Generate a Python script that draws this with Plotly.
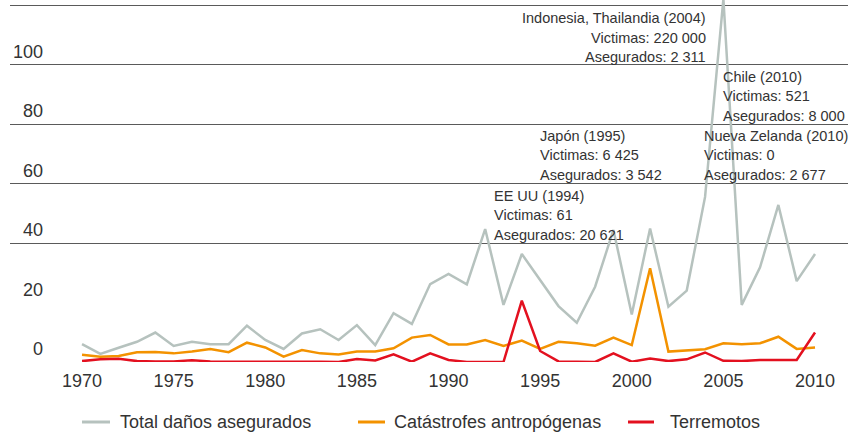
import plotly.graph_objects as go

years = list(range(1970, 2011))

total_asegurados = [6.0, 2.7, 4.8, 6.8, 9.9, 5.4, 6.8, 6.0, 6.0, 12.2,
                    7.4, 4.4, 9.6, 11.0, 7.4, 12.4, 5.7, 16.4, 12.8, 26.2,
                    29.6, 26.1, 44.7, 19.2, 36.3, 27.6, 18.8, 13.2, 25.3, 44.4,
                    16.0, 44.9, 18.6, 24.0, 55.5, 122.0, 19.2, 31.8, 52.8, 27.2,
                    36.3]

antropogenas = [2.4, 1.8, 2.0, 3.3, 3.4, 2.9, 3.5, 4.4, 3.3, 6.5,
                4.9, 1.8, 4.0, 2.9, 2.5, 3.5, 3.5, 4.6, 8.2, 9.1,
                5.9, 5.9, 7.4, 5.4, 7.2, 4.4, 6.8, 6.3, 5.5, 8.2,
                5.7, 31.5, 3.5, 4.0, 4.3, 6.3, 6.0, 6.3, 8.5, 4.4,
                4.9]

terremotos = [0.3, 0.9, 1.1, 0.3, 0.2, 0.2, 0.6, 0.2, 0.1, 0.1,
              0.2, 0.3, 0.1, 0.1, 0.0, 1.0, 0.5, 2.6, 0.1, 2.9,
              0.7, 0.0, 0.0, 0.0, 20.6, 3.7, 0.2, 0.0, 0.0, 2.9,
              0.1, 1.2, 0.3, 0.9, 3.2, 0.4, 0.3, 0.7, 0.7, 0.7,
              9.9]

series_names = ["Total daños asegurados", "Catástrofes antropógenas", "Terremotos"]
series_colors = ["#b6c2be", "#f39200", "#e3101f"]

x_tickvals = [1970, 1975, 1980, 1985, 1990, 1995, 2000, 2005, 2010]
y_label_vals = [0, 20, 40, 60, 80, 100]
y_grid_vals = [0, 40, 60, 80, 100, 120]

events = [
    ("Indonesia, Thailandia (2004)", "Victimas: 220 000", "Asegurados: 2 311"),
    ("Chile (2010)", "Victimas: 521", "Asegurados: 8 000"),
    ("Japón (1995)", "Victimas: 6 425", "Asegurados: 3 542"),
    ("Nueva Zelanda (2010)", "Victimas: 0", "Asegurados: 2 677"),
    ("EE UU (1994)", "Victimas: 61", "Asegurados: 20 621"),
]
event_x = [2004.1, 2004.91, 1994.93, 2003.88, 1992.42]
event_y = [115.6, 95.8, 76.0, 76.0, 55.8]
event_anchor = ["right", "left", "left", "left", "left"]

# manual legend layout (pixel positions along the bottom row)
legend_line_x = [(82, 110), (358, 385), (628, 654)]
legend_text_x = [119, 393, 669]

W, H = 859, 435
ML, MR, MT, MB = 10, 11, 0, 73
PW, PH = W - ML - MR, H - MT - MB

FONT = "Liberation Sans, Arial, sans-serif"
TXT = "#333333"

fig = go.Figure()
for name, vals, col in zip(series_names, [total_asegurados, antropogenas, terremotos], series_colors):
    fig.add_trace(go.Scatter(x=years, y=vals, mode="lines", name=name,
                             line=dict(color=col, width=2.5), showlegend=False,
                             hoverinfo="skip"))

annotations = []
shapes = []
for v in y_label_vals:
    annotations.append(dict(x=(45 - ML) / PW, xref="paper", y=v, yref="y", text=str(v),
                            showarrow=False, xanchor="right", yanchor="middle",
                            yshift=13, font=dict(family=FONT, size=18, color=TXT)))
for (lines), ex, ey, anc in zip(events, event_x, event_y, event_anchor):
    for i, line in enumerate(lines):
        annotations.append(dict(x=ex, xref="x", y=ey, yref="y", text=line,
                                showarrow=False, xanchor=anc, yanchor="middle",
                                yshift=-19.4 * i, borderpad=0,
                                font=dict(family=FONT, size=14.5, color=TXT)))

leg_y = -(422 - (H - MB)) / PH
for name, col, (x0, x1), tx in zip(series_names, series_colors, legend_line_x, legend_text_x):
    shapes.append(dict(type="line", xref="paper", yref="paper",
                       x0=(x0 - ML) / PW, x1=(x1 - ML) / PW, y0=leg_y, y1=leg_y,
                       line=dict(color=col, width=3)))
    annotations.append(dict(x=(tx - ML) / PW, xref="paper", y=leg_y, yref="paper",
                            text=name, showarrow=False, xanchor="left", yanchor="middle",
                            borderpad=0, font=dict(family=FONT, size=18, color=TXT)))

fig.update_layout(
    width=W, height=H,
    margin=dict(l=ML, r=MR, t=MT, b=MB, autoexpand=False),
    paper_bgcolor="white", plot_bgcolor="white",
    font=dict(family=FONT, color=TXT),
    showlegend=False,
    hovermode=False,
    annotations=annotations,
    shapes=shapes,
    xaxis=dict(range=[1966.07, 2011.8], tickvals=x_tickvals, showgrid=False,
               zeroline=False, showline=False, ticks="outside", ticklen=2,
               tickcolor="rgba(0,0,0,0)", automargin=False,
               tickfont=dict(family=FONT, size=18, color=TXT)),
    yaxis=dict(range=[0, 121.7], tickvals=y_grid_vals, showticklabels=False,
               showgrid=True, gridcolor="#5a5a5a", gridwidth=1, zeroline=False,
               showline=False, ticks="", automargin=False),
)

fig.write_html("out.html", config={"displayModeBar": False},
               post_script="document.body.style.margin='0';document.body.style.padding='0';")
